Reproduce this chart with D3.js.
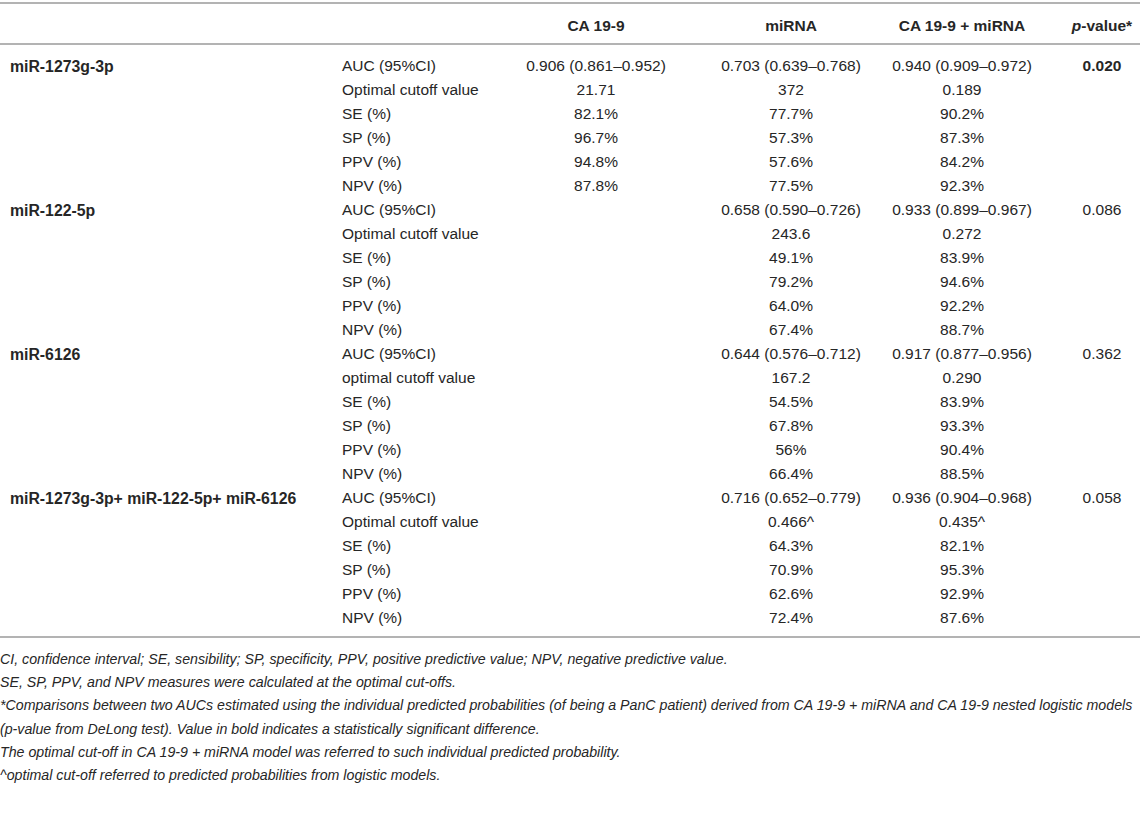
<!DOCTYPE html>
<html>
<head>
<meta charset="utf-8">
<script src="https://cdn.jsdelivr.net/npm/d3@7"></script>
<style>
  html, body { margin: 0; padding: 0; background: #fff; }
  svg { display: block; font-family: "Liberation Sans", Arial, sans-serif; }
</style>
</head>
<body>
<script>
// ---------------- DATA ----------------
const columns = ["CA 19-9", "miRNA", "CA 19-9 + miRNA", "p-value*"];
const groups = ["miR-1273g-3p", "miR-122-5p", "miR-6126", "miR-1273g-3p+ miR-122-5p+ miR-6126"];
const measuresG1 = ["AUC (95%CI)", "Optimal cutoff value", "SE (%)", "SP (%)", "PPV (%)", "NPV (%)"];
const measuresG3 = ["AUC (95%CI)", "optimal cutoff value", "SE (%)", "SP (%)", "PPV (%)", "NPV (%)"];
const measureLabels = [measuresG1, measuresG1, measuresG3, measuresG1];

const ca199Values = [
  ["0.906 (0.861–0.952)", "21.71", "82.1%", "96.7%", "94.8%", "87.8%"],
  ["", "", "", "", "", ""],
  ["", "", "", "", "", ""],
  ["", "", "", "", "", ""]
];
const mirnaValues = [
  ["0.703 (0.639–0.768)", "372", "77.7%", "57.3%", "57.6%", "77.5%"],
  ["0.658 (0.590–0.726)", "243.6", "49.1%", "79.2%", "64.0%", "67.4%"],
  ["0.644 (0.576–0.712)", "167.2", "54.5%", "67.8%", "56%", "66.4%"],
  ["0.716 (0.652–0.779)", "0.466^", "64.3%", "70.9%", "62.6%", "72.4%"]
];
const comboValues = [
  ["0.940 (0.909–0.972)", "0.189", "90.2%", "87.3%", "84.2%", "92.3%"],
  ["0.933 (0.899–0.967)", "0.272", "83.9%", "94.6%", "92.2%", "88.7%"],
  ["0.917 (0.877–0.956)", "0.290", "83.9%", "93.3%", "90.4%", "88.5%"],
  ["0.936 (0.904–0.968)", "0.435^", "82.1%", "95.3%", "92.9%", "87.6%"]
];
const pValues = ["0.020", "0.086", "0.362", "0.058"];
const pSignificant = [true, false, false, false];

const footnotes = [
  "CI, confidence interval; SE, sensibility; SP, specificity, PPV, positive predictive value; NPV, negative predictive value.",
  "SE, SP, PPV, and NPV measures were calculated at the optimal cut-offs.",
  "*Comparisons between two AUCs estimated using the individual predicted probabilities (of being a PanC patient) derived from CA 19-9 + miRNA and CA 19-9 nested logistic models",
  "(p-value from DeLong test). Value in bold indicates a statistically significant difference.",
  "The optimal cut-off in CA 19-9 + miRNA model was referred to such individual predicted probability.",
  "^optimal cut-off referred to predicted probabilities from logistic models."
];

// ---------------- BUILD ROWS ----------------
const rows = [];
groups.forEach((g, gi) => {
  measureLabels[gi].forEach((m, mi) => {
    rows.push({
      group: mi === 0 ? g : "",
      measure: m,
      ca: ca199Values[gi][mi],
      mirna: mirnaValues[gi][mi],
      combo: comboValues[gi][mi],
      p: mi === 0 ? pValues[gi] : "",
      pBold: mi === 0 && pSignificant[gi]
    });
  });
});

// ---------------- DRAW ----------------
const W = 1143, H = 823;
const svg = d3.select("body").append("svg").attr("width", W).attr("height", H);

const textColor = "#262626";
const lineColor = "#b3b3b3";
const fs = 15.5;

const y = d3.scaleLinear().domain([0, rows.length - 1]).range([66, 618]);
const colX = d3.scaleOrdinal().domain(columns).range([596, 791, 962, 1102]);
const labelX = 10, measureX = 342;

// rules
const rules = [3, 44, 637];
svg.selectAll("line.rule").data(rules).join("line")
  .attr("class", "rule")
  .attr("x1", 0).attr("x2", 1140)
  .attr("y1", d => d).attr("y2", d => d)
  .attr("stroke", lineColor).attr("stroke-width", 2);

// header
const header = svg.append("g").attr("font-weight", "bold").attr("font-size", fs).attr("fill", textColor);
columns.forEach(c => {
  const t = header.append("text").attr("x", colX(c)).attr("y", 26).attr("dy", "0.35em").attr("text-anchor", "middle");
  if (c === "p-value*") {
    t.append("tspan").attr("font-style", "italic").text("p");
    t.append("tspan").text("-value*");
  } else {
    t.text(c);
  }
});

// body rows
const body = svg.append("g").attr("font-size", fs).attr("fill", textColor);
const rowG = body.selectAll("g.row").data(rows).join("g").attr("class", "row")
  .attr("transform", (d, i) => `translate(0,${y(i)})`);

rowG.append("text").attr("x", labelX).attr("dy", "0.35em").attr("font-weight", "bold").attr("font-size", 15.8).text(d => d.group);
rowG.append("text").attr("x", measureX).attr("dy", "0.35em").text(d => d.measure);
rowG.append("text").attr("x", colX("CA 19-9")).attr("dy", "0.35em").attr("text-anchor", "middle").text(d => d.ca);
rowG.append("text").attr("x", colX("miRNA")).attr("dy", "0.35em").attr("text-anchor", "middle").text(d => d.mirna);
rowG.append("text").attr("x", colX("CA 19-9 + miRNA")).attr("dy", "0.35em").attr("text-anchor", "middle").text(d => d.combo);
rowG.append("text").attr("x", colX("p-value*")).attr("dy", "0.35em").attr("text-anchor", "middle")
  .attr("font-weight", d => d.pBold ? "bold" : "normal").text(d => d.p);

// footnotes
const fy = d3.scaleLinear().domain([0, footnotes.length - 1]).range([659, 775]);
svg.append("g").attr("font-size", 14.2).attr("font-style", "italic").attr("fill", textColor)
  .selectAll("text").data(footnotes).join("text")
  .attr("x", 0).attr("y", (d, i) => fy(i)).attr("dy", "0.35em").text(d => d);
</script>
</body>
</html>
